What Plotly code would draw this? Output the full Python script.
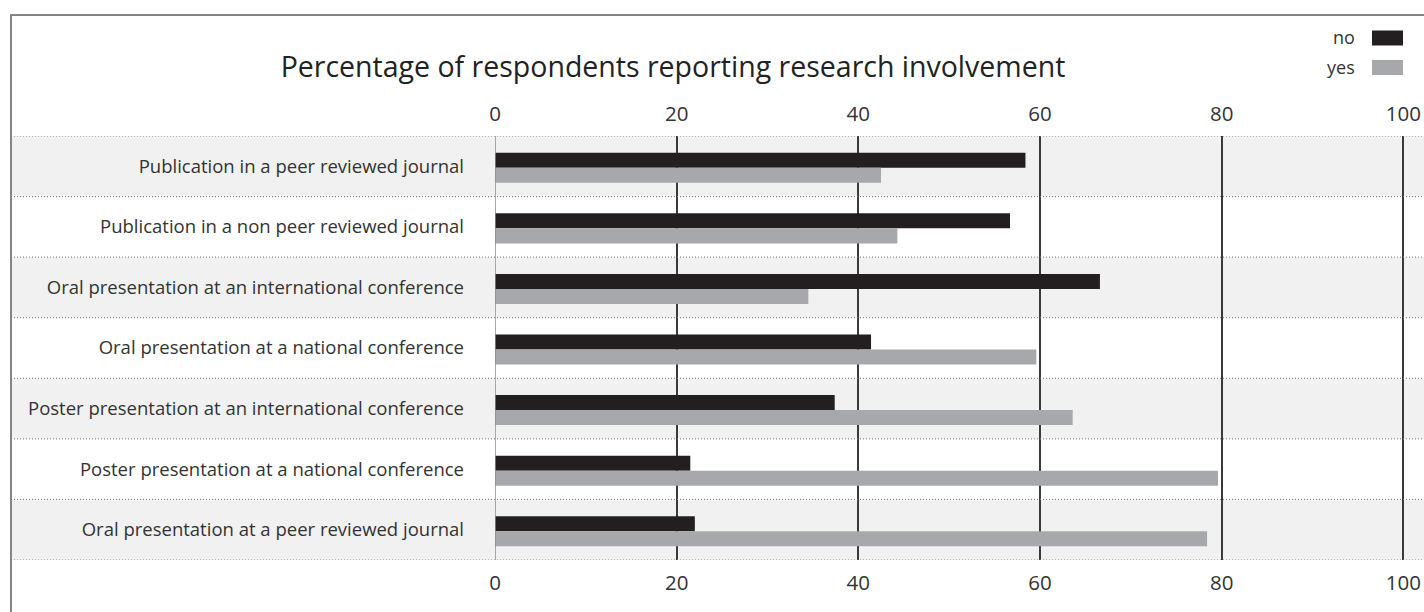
import plotly.graph_objects as go

# Survey items (top to bottom) and percentages per answer
categories = [
    "Publication in a peer reviewed journal",
    "Publication in a non peer reviewed journal",
    "Oral presentation at an international conference",
    "Oral presentation at a national conference",
    "Poster presentation at an international conference",
    "Poster presentation at a national conference",
    "Oral presentation at a peer reviewed journal",
]
no_values = [58.4, 56.7, 66.6, 41.4, 37.4, 21.5, 22.0]
yes_values = [42.5, 44.3, 34.5, 59.6, 63.6, 79.6, 78.4]
tick_values = [0, 20, 40, 60, 80, 100]
series_names = ["no", "yes"]

W, H = 1424, 612
PLOT_L, PLOT_R, PLOT_T, PLOT_B = 495, 1424, 136, 560
X_MAX = (PLOT_R - PLOT_L) / 9.083

NO_COLOR = "#231f20"
YES_COLOR = "#a7a8ab"
BAND = "#f1f1f1"
FONT = "Open Sans"
TXT = "#333333"


def px_x(px):
    return (px - PLOT_L) / (PLOT_R - PLOT_L)


def px_y(py):
    return (PLOT_B - py) / (PLOT_B - PLOT_T)


n = len(categories)
idx = list(range(n))
bar_w = 15 / 60.5

fig = go.Figure()
fig.add_trace(go.Bar(
    y=idx, x=no_values, orientation="h", name=series_names[0],
    marker=dict(color=NO_COLOR, line=dict(width=0)),
    width=bar_w, offset=-bar_w + 0.025, showlegend=False,
))
fig.add_trace(go.Bar(
    y=idx, x=yes_values, orientation="h", name=series_names[1],
    marker=dict(color=YES_COLOR, line=dict(width=0)),
    width=bar_w, offset=0.025, showlegend=False,
))
# carrier trace for the top axis
fig.add_trace(go.Scatter(
    x=no_values, y=idx, xaxis="x2", mode="markers",
    marker=dict(opacity=0), hoverinfo="skip", showlegend=False,
))

shapes = []
# alternating row bands
for i in range(0, n, 2):
    shapes.append(dict(
        type="rect", xref="paper", yref="y", layer="below",
        x0=px_x(11), x1=1.05, y0=i - 0.5, y1=i + 0.5,
        fillcolor=BAND, line=dict(width=0),
    ))
# dotted row separators
for i in range(n + 1):
    shapes.append(dict(
        type="line", xref="paper", yref="y", layer="above",
        x0=px_x(11), x1=1.05, y0=i - 0.5, y1=i - 0.5,
        line=dict(color="#777777", width=1, dash="1px,2px"),
    ))
# outer frame
shapes.append(dict(
    type="rect", xref="paper", yref="paper",
    x0=px_x(11), x1=1.2, y0=-0.5, y1=px_y(15),
    line=dict(color="#858585", width=2), fillcolor="rgba(0,0,0,0)",
))
# legend swatches
for name, color, cy in [(series_names[0], NO_COLOR, 38), (series_names[1], YES_COLOR, 67.5)]:
    shapes.append(dict(
        type="rect", xref="paper", yref="paper",
        x0=px_x(1372), x1=px_x(1403), y0=px_y(cy + 7.5), y1=px_y(cy - 7.5),
        fillcolor=color, line=dict(width=0),
    ))

annotations = []
for name, cy in [(series_names[0], 37), (series_names[1], 66.5)]:
    annotations.append(dict(
        xref="paper", yref="paper", x=px_x(1357), y=px_y(cy),
        text=name, showarrow=False, xanchor="right", yanchor="middle",
        font=dict(family=FONT, size=18, color=TXT),
    ))

axis_common = dict(
    range=[0, X_MAX], tickvals=tick_values, ticks="",
    tickfont=dict(family=FONT, size=20.5, color=TXT),
    zeroline=False, showline=False,
)

fig.update_layout(
    width=W, height=H,
    margin=dict(l=PLOT_L, r=W - PLOT_R, t=PLOT_T, b=H - PLOT_B, pad=0),
    paper_bgcolor="white", plot_bgcolor="rgba(0,0,0,0)",
    barmode="overlay",
    title=dict(
        text="Percentage of respondents reporting research involvement",
        xref="container", yref="container", x=673 / W, y=1 - 67 / H,
        xanchor="center", yanchor="middle",
        font=dict(family=FONT, size=28.5, color="#222222"),
    ),
    xaxis=dict(
        **axis_common, side="bottom",
        showgrid=True, gridcolor="#3a3a3a", gridwidth=1.5,
        ticklabelstandoff=8,
    ),
    xaxis2=dict(
        **axis_common, side="top", overlaying="x", matches="x",
        showgrid=False, ticklabelstandoff=10,
    ),
    yaxis=dict(
        range=[n - 0.5, -0.5], tickvals=idx, ticktext=categories,
        showgrid=False, zeroline=False, showline=False, ticks="",
        tickfont=dict(family=FONT, size=18.5, color=TXT),
        ticklabelstandoff=30,
    ),
    shapes=shapes,
    annotations=annotations,
    showlegend=False,
)

# zero line drawn lighter than the gridlines
fig.add_shape(
    type="line", xref="x", yref="paper", x0=0, x1=0, y0=0, y1=1,
    line=dict(color="#8c8c8c", width=1.5), layer="above",
)

fig.write_html("out.html")
